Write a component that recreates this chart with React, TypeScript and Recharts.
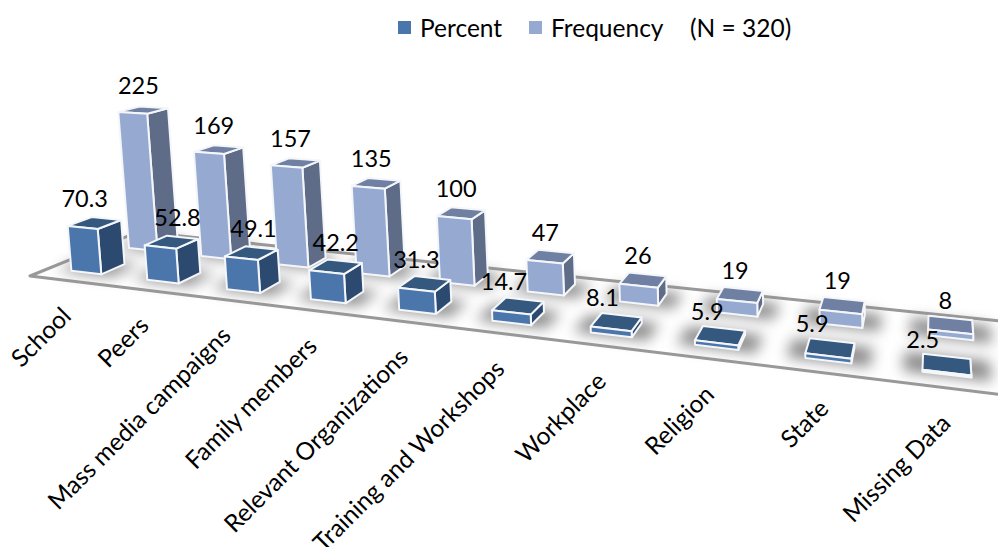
import React from "react"
import { Bar, BarChart, LabelList, Legend, XAxis, YAxis } from "recharts"

const categories = [
  "School",
  "Peers",
  "Mass media campaigns",
  "Family members",
  "Relevant Organizations",
  "Training and Workshops",
  "Workplace",
  "Religion",
  "State",
  "Missing Data",
]
const percentValues = [70.3, 52.8, 49.1, 42.2, 31.3, 14.7, 8.1, 5.9, 5.9, 2.5]
const frequencyValues = [225, 169, 157, 135, 100, 47, 26, 19, 19, 8]

const data = categories.map((name, i) => ({
  name,
  percent: percentValues[i],
  frequency: frequencyValues[i],
}))

const FONT = "Lato, sans-serif"

// Perspective camera: three vanishing points and the floor's near-left corner
const ORIGIN = { x: 30, y: 276 }
const VP_U = { x: -3000, y: -94 }
const VP_V = { x: 940, y: -94 }
const VP_H = { x: 930, y: 10500 }
const C_U = -0.0003057
const C_V = 0.136
const C_H = -6.3e-5

function project(u: number, v: number, h: number) {
  const a = C_U * u
  const b = C_V * v
  const c = C_H * h
  const w = 1 + a + b + c
  return {
    x: (ORIGIN.x + a * VP_U.x + b * VP_V.x + c * VP_H.x) / w,
    y: (ORIGIN.y + a * VP_U.y + b * VP_V.y + c * VP_H.y) / w,
  }
}

const pts = (list: { x: number; y: number }[]) =>
  list.map((p) => `${p.x.toFixed(1)},${p.y.toFixed(1)}`).join(" ")

// Depth slots on the floor for each series row, back row sits a touch to the right
const FRONT_ROW = { v: 0.16, shift: 0 }
const BACK_ROW = { v: 0.663, shift: 3 }
const BAR_DEPTH = 0.21

const PERCENT_COLORS = { front: "#4a76ab", side: "#2c4a70", top: "#35587f" }
const FREQUENCY_COLORS = { front: "#95a9d1", side: "#5e6c88", top: "#6f80a3" }

function Box(props: any) {
  const { x, width, height, row, colors } = props
  const v0 = row.v
  const v1 = v0 + BAR_DEPTH
  const x0 = x + row.shift
  const x1 = x0 + width
  const fbl = project(x0, v0, 0)
  const fbr = project(x1, v0, 0)
  const bbr = project(x1, v1, 0)
  const ftl = project(x0, v0, height)
  const ftr = project(x1, v0, height)
  const btr = project(x1, v1, height)
  const btl = project(x0, v1, height)
  const edge = { stroke: "#f4f6fa", strokeWidth: 2, strokeLinejoin: "round" as const }
  return (
    <g>
      <polygon points={pts([fbr, bbr, btr, ftr])} fill={colors.side} {...edge} />
      <polygon points={pts([ftl, ftr, btr, btl])} fill={colors.top} {...edge} />
      <polygon points={pts([fbl, fbr, ftr, ftl])} fill={colors.front} {...edge} />
    </g>
  )
}

// Floor plate, plus the soft shadow pooled under each pair of boxes
function FloorShadow(props: any) {
  const { x, width, index } = props
  const pool = (row: { v: number; shift: number }) => {
    const x0 = x + row.shift - 13
    const x1 = x + row.shift + width + 13
    return pts([
      project(x0, row.v - 0.02, 0),
      project(x1, row.v - 0.02, 0),
      project(x1, row.v + BAR_DEPTH + 0.03, 0),
      project(x0, row.v + BAR_DEPTH + 0.03, 0),
    ])
  }
  const soft = { fill: "#8c8c8c", style: { filter: "blur(7px)" } }
  return (
    <g>
      {index === 0 && (
        <polygon
          points={pts([
            project(0, 0, 0),
            project(900, 0, 0),
            project(900, 1, 0),
            project(0, 1, 0),
          ])}
          fill="#ffffff"
          stroke="#999999"
          strokeWidth={3}
          strokeLinejoin="round"
        />
      )}
      <polygon points={pool(BACK_ROW)} {...soft} />
      <polygon points={pool(FRONT_ROW)} {...soft} />
    </g>
  )
}

const percentLabelDx = [-10, 6, 2, 0, -8, -14, -14, -13, -18, -24]

const valueLabel = (row: { v: number; shift: number }, dxFor: (i: number) => number) => (props: any) => {
  const { x, width, height, value, index } = props
  const p = project(x + row.shift + width / 2, row.v + BAR_DEPTH / 2, height)
  return (
    <text
      x={p.x + dxFor(index)}
      y={p.y - 25}
      textAnchor="middle"
      dominantBaseline="central"
      fontFamily={FONT}
      fontSize={23.5}
      fill="#000"
    >
      {value}
    </text>
  )
}

function CategoryTick(props: any) {
  const { x, payload } = props
  const p = project(x, 0, 0)
  const tx = p.x + 5
  const ty = p.y + 37
  return (
    <text
      x={tx}
      y={ty}
      textAnchor="end"
      fontFamily={FONT}
      fontSize={24.5}
      fill="#000"
      transform={`rotate(-45 ${tx} ${ty})`}
    >
      {payload.value}
    </text>
  )
}

function LegendBlock() {
  const item = (color: string, label: string, width: number) => (
    <span style={{ display: "inline-flex", alignItems: "center", width }}>
      <span style={{ width: 13, height: 13, background: color, marginRight: 9 }} />
      {label}
    </span>
  )
  return (
    <div style={{ fontFamily: FONT, fontSize: 24.5, color: "#000", display: "flex", whiteSpace: "nowrap" }}>
      {item(PERCENT_COLORS.front, "Percent", 131)}
      {item(FREQUENCY_COLORS.front, "Frequency", 161)}
      <span>(N = 320)</span>
    </div>
  )
}

export default function App() {
  return (
    <div style={{ position: "absolute", left: 0, top: 0, width: 998, height: 547, overflow: "hidden", background: "#fff" }}>
      <BarChart
        width={998}
        height={547}
        data={data}
        barSize={32}
        barGap={-32}
        margin={{ top: 100, right: 198, bottom: 97, left: 0 }}
      >
        <XAxis
          dataKey="name"
          interval={0}
          height={100}
          axisLine={false}
          tickLine={false}
          tick={<CategoryTick />}
        />
        <YAxis hide domain={[0, 250]} />
        <Legend
          layout="horizontal"
          verticalAlign="middle"
          content={<LegendBlock />}
          wrapperStyle={{ position: "absolute", left: 398, top: 13, width: 420 }}
        />
        <Bar
          dataKey="frequency"
          legendType="none"
          isAnimationActive={false}
          shape={<FloorShadow />}
        />
        <Bar
          dataKey="frequency"
          name="Frequency"
          isAnimationActive={false}
          shape={(p: any) => <Box {...p} row={BACK_ROW} colors={FREQUENCY_COLORS} />}
        >
          <LabelList dataKey="frequency" content={valueLabel(BACK_ROW, () => -5)} />
        </Bar>
        <Bar
          dataKey="percent"
          name="Percent"
          isAnimationActive={false}
          shape={(p: any) => <Box {...p} row={FRONT_ROW} colors={PERCENT_COLORS} />}
        >
          <LabelList dataKey="percent" content={valueLabel(FRONT_ROW, (i) => percentLabelDx[i])} />
        </Bar>
      </BarChart>
    </div>
  )
}
